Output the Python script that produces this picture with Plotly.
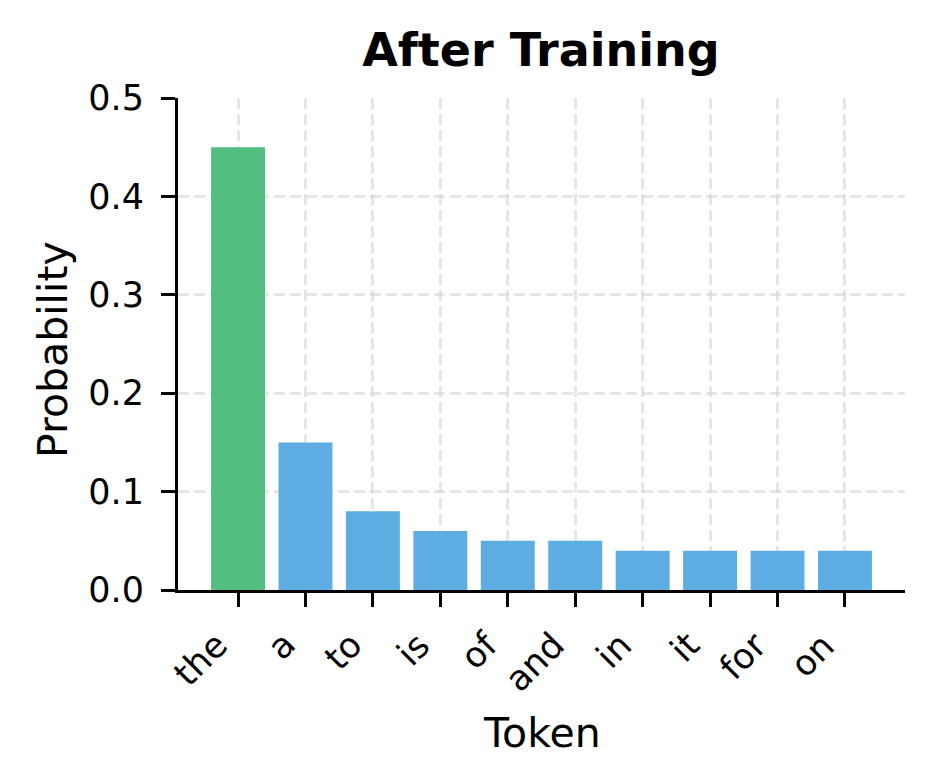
import plotly.graph_objects as go

tokens = ["the", "a", "to", "is", "of", "and", "in", "it", "for", "on"]
probs = [0.45, 0.15, 0.08, 0.06, 0.05, 0.05, 0.04, 0.04, 0.04, 0.04]
bar_colors = ["#52BE80"] + ["#5DADE2"] * 9
y_ticks = [0.0, 0.1, 0.2, 0.3, 0.4, 0.5]

xpos = list(range(len(tokens)))
fig = go.Figure(go.Bar(
    x=xpos, y=probs, marker_color=bar_colors,
    marker_line_width=0, width=0.8,
))

font = "DejaVu Sans"
W, H = 918, 768
L, R, T, B = 170, 21, 90, 186
grid = "rgba(205,205,205,0.5)"

annotations = []
for xv, lab in zip(xpos, tokens):
    annotations.append(dict(
        x=xv, y=0, xref="x", yref="paper", text=lab, showarrow=False,
        textangle=-45, xanchor="right", yanchor="top", yshift=-32, xshift=0,
        font=dict(family=font, size=35, color="black"),
    ))
annotations.append(dict(
    x=0.5, y=0, xref="paper", yref="paper", text="Token", showarrow=False,
    xanchor="center", yanchor="middle", yshift=-143,
    font=dict(family=font, size=41, color="black"),
))
annotations.append(dict(
    x=0, y=0.5, xref="paper", yref="paper", text="Probability", showarrow=False,
    textangle=-90, xanchor="center", yanchor="middle", xshift=-125, yshift=-6,
    font=dict(family=font, size=41, color="black"),
))

fig.update_layout(
    width=W, height=H,
    paper_bgcolor="white", plot_bgcolor="white",
    margin=dict(l=L, r=R, t=T, b=B, autoexpand=False),
    showlegend=False,
    title=dict(text="<b>After Training</b>", x=533/W, xref="container", xanchor="center",
               y=1 - 42/H, yref="container", yanchor="middle",
               font=dict(family=font, size=46, color="black")),
    font=dict(family=font, color="black"),
    annotations=annotations,
)
fig.update_xaxes(
    range=[-0.89, 9.89],
    tickmode="array", tickvals=xpos, showticklabels=False,
    ticks="outside", ticklen=14, tickwidth=3, tickcolor="black",
    showline=True, linecolor="black", linewidth=3,
    showgrid=True, gridcolor=grid, gridwidth=2.5, griddash="11px,5px",
    zeroline=False,
    layer="above traces",
)
fig.update_yaxes(
    range=[0, 0.5],
    tickmode="array", tickvals=y_ticks, ticktext=[f"{v:.1f}" for v in y_ticks],
    tickfont=dict(size=35),
    ticks="outside", ticklen=14, tickwidth=3, tickcolor="black",
    ticklabelstandoff=10,
    showline=True, linecolor="black", linewidth=3,
    showgrid=True, gridcolor=grid, gridwidth=2.5, griddash="11px,5px",
    zeroline=False,
    layer="above traces",
)

fig.write_html("out.html")
